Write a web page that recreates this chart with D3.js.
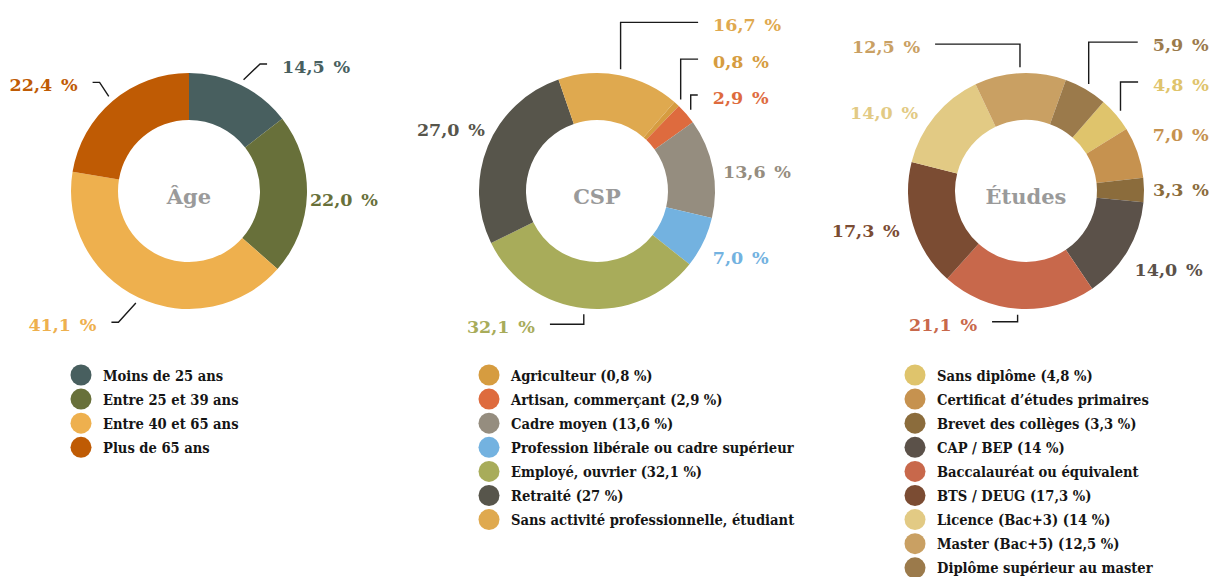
<!DOCTYPE html>
<html><head><meta charset="utf-8">
<script src="https://cdn.jsdelivr.net/npm/d3@7"></script>
<style>
html,body{margin:0;padding:0;background:#fff;}
svg{display:block;}
</style></head>
<body>
<svg id="chart" width="1210" height="577"></svg>
<script>
// ---------- DATA ----------
const ageTitle = "Âge";
const ageCategories = ["Moins de 25 ans", "Entre 25 et 39 ans", "Entre 40 et 65 ans", "Plus de 65 ans"];
const ageValues = [14.5, 22.0, 41.1, 22.4];
const ageColors = ["#485f5f", "#68703a", "#eeb04e", "#bf5b04"];

const cspTitle = "CSP";
const cspCategories = ["Agriculteur (0,8 %)", "Artisan, commerçant (2,9 %)", "Cadre moyen (13,6 %)",
  "Profession libérale ou cadre supérieur", "Employé, ouvrier (32,1 %)", "Retraité (27 %)",
  "Sans activité professionnelle, étudiant"];
const cspValues = [0.8, 2.9, 13.6, 7.0, 32.1, 27.0, 16.7];
const cspColors = ["#d69c40", "#de6b3e", "#958d7f", "#73b2e0", "#a8ac5a", "#57554b", "#dfa94f"];

const etudesTitle = "Études";
const etudesCategories = ["Sans diplôme (4,8 %)", "Certificat d’études primaires", "Brevet des collèges (3,3 %)",
  "CAP / BEP (14 %)", "Baccalauréat ou équivalent", "BTS / DEUG (17,3 %)", "Licence (Bac+3) (14 %)",
  "Master (Bac+5) (12,5 %)", "Diplôme supérieur au master"];
const etudesValues = [4.8, 7.0, 3.3, 14.0, 21.1, 17.3, 14.0, 12.5, 5.9];
const etudesColors = ["#dfc46c", "#c6924f", "#8b6c3c", "#5b5149", "#c8684b", "#7b4c33", "#e2ca84", "#c9a063", "#9b7a4b"];

// ---------- LAYOUT (label placement tweaks, not data) ----------
const ageLabelLayout = [
  {kind: "diag", dx: 35, dy: -5.5}, {kind: "none", dx: -11, dy: 5},
  {kind: "diag", dx: -36, dy: 15}, {kind: "diag", dx: -26, dy: -5}];
const cspLabelLayout = [
  {kind: "elbow", dx: 27, dy: -31.5}, {kind: "elbow", dx: 16, dy: -6.6}, {kind: "none", dx: -3.5, dy: 7},
  {kind: "none", dx: -3, dy: 10}, {kind: "elbow", dx: -48, dy: 5}, {kind: "none", dx: 10, dy: -10.5},
  {kind: "elbow", dx: 91, dy: -36}];
const etudesLabelLayout = [
  {kind: "elbow", dx: 26.5, dy: -20.5}, {kind: "none", dx: 2, dy: -13}, {kind: "none", dx: -5, dy: 0},
  {kind: "none", dx: -5, dy: 12}, {kind: "elbow", dx: -40, dy: 2}, {kind: "none", dx: 0, dy: 2},
  {kind: "none", dx: -6, dy: 6}, {kind: "elbow", dx: -99.5, dy: -12}, {kind: "elbow", dx: 60, dy: -32}];

const charts = [
  {title: ageTitle, cats: ageCategories, vals: ageValues, cols: ageColors, layout: ageLabelLayout,
   cx: 189, start: 0, legendX: 81, legendTextX: 103},
  {title: cspTitle, cats: cspCategories, vals: cspValues, cols: cspColors, layout: cspLabelLayout,
   cx: 597, start: 41, legendX: 489, legendTextX: 511},
  {title: etudesTitle, cats: etudesCategories, vals: etudesValues, cols: etudesColors, layout: etudesLabelLayout,
   cx: 1026, start: 41, legendX: 915, legendTextX: 937}
];

const CY = 191, R_OUT = 118, R_IN = 71, R_TEXT = 132, R_LEAD = 124;
const LEG_Y0 = 375, LEG_STEP = 24.1;
const serif = '"DejaVu Serif", serif';

const svg = d3.select("#chart");
const fmt = v => d3.format(".1f")(v).replace(".", ",") + "\u2002%";
const polar = (cx, a, r) => [cx + r * Math.sin(a), CY - r * Math.cos(a)];

charts.forEach(ch => {
  const s0 = ch.start * Math.PI / 180;
  const pie = d3.pie().sort(null).value(d => d).startAngle(s0).endAngle(s0 + 2 * Math.PI);
  const arcs = pie(ch.vals);
  const arc = d3.arc().innerRadius(R_IN).outerRadius(R_OUT);
  const g = svg.append("g");

  g.append("g").attr("transform", `translate(${ch.cx},${CY})`)
    .selectAll("path").data(arcs).join("path")
    .attr("d", arc).attr("fill", (d, i) => ch.cols[i]);

  g.append("text").attr("x", ch.cx).attr("y", CY + 5)
    .attr("text-anchor", "middle").attr("dominant-baseline", "central")
    .style("font-family", serif).style("font-weight", "bold").style("font-size", "21px")
    .attr("fill", "#9a9a9a").text(ch.title);

  arcs.forEach((d, i) => {
    const mid = (d.startAngle + d.endAngle) / 2;
    const lay = ch.layout[i];
    const base = polar(ch.cx, mid, R_TEXT);
    const tx = base[0] + lay.dx, ty = base[1] + lay.dy;
    const sgn = Math.sin(mid) >= 0 ? 1 : -1;
    if (lay.kind !== "none") {
      const s = polar(ch.cx, mid, R_LEAD);
      const ly = ty - 3, ex = tx - sgn * 15;
      const p = d3.path();
      p.moveTo(s[0], s[1]);
      if (lay.kind === "diag") p.lineTo(tx - sgn * 22, ly);
      else p.lineTo(s[0], ly);
      p.lineTo(ex, ly);
      g.append("path").attr("d", p.toString()).attr("fill", "none")
        .attr("stroke", "#1a1a1a").attr("stroke-width", 1.4);
    }
    g.append("text").attr("x", tx).attr("y", ty)
      .attr("text-anchor", sgn > 0 ? "start" : "end").attr("dominant-baseline", "central")
      .style("font-family", serif).style("font-weight", "bold").style("font-size", "17.5px")
      .attr("fill", ch.cols[i]).text(fmt(ch.vals[i]));
  });

  const leg = g.append("g").selectAll("g").data(ch.cats).join("g")
    .attr("transform", (d, i) => `translate(0,${LEG_Y0 + i * LEG_STEP})`);
  leg.append("circle").attr("cx", ch.legendX).attr("cy", 0).attr("r", 10.5)
    .attr("fill", (d, i) => ch.cols[i]);
  leg.append("text").attr("x", ch.legendTextX).attr("y", 0).attr("dominant-baseline", "central")
    .style("font-family", '"DejaVu Serif Condensed", "DejaVu Serif", serif')
    .style("font-stretch", "condensed")
    .style("font-weight", "bold").style("font-size", "14.6px").attr("fill", "#151515").text(d => d);
});
</script>
</body></html>
